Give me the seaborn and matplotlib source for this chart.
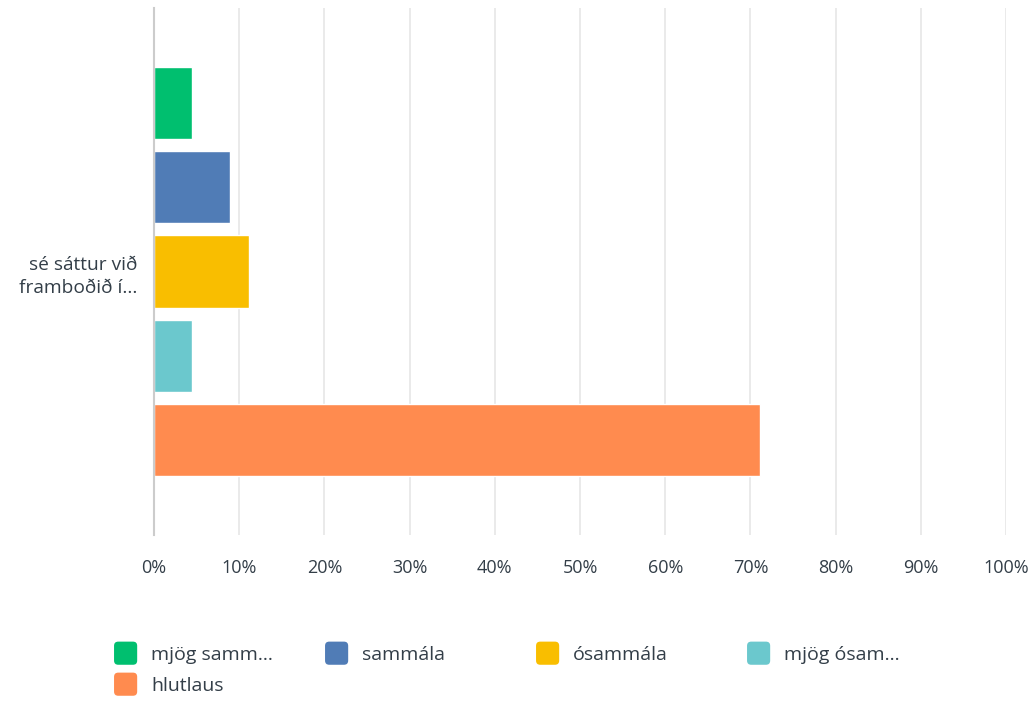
import pandas as pd
import numpy as np
import matplotlib.pyplot as plt
import seaborn as sns
from matplotlib.patches import FancyBboxPatch
from matplotlib.legend_handler import HandlerPatch

question = ["sé sáttur við\nframboðið í..."]
answers = ["mjög samm...", "sammála", "ósammála", "mjög ósam...", "hlutlaus"]
shares = [4.44, 8.89, 11.11, 4.44, 71.11]
colors = ["#00BF6F", "#507CB6", "#F9BE00", "#6BC8CD", "#FF8B4F"]
ticks = [0, 10, 20, 30, 40, 50, 60, 70, 80, 90, 100]

df = pd.DataFrame({"q": question * len(answers), "answer": answers, "share": shares})

sns.set_style("white")
plt.rcParams['font.family'] = ['Open Sans', 'DejaVu Sans']
text_col = "#333e48"

fig = plt.figure(figsize=(10.28, 7.02), dpi=100)
ax = fig.add_axes([154 / 1028, 1 - 535 / 702, (1006 - 154) / 1028, (535 - 8) / 702])

sns.barplot(data=df, y="q", x="share", hue="answer", hue_order=answers,
            palette=colors, gap=0.14, width=0.8, ax=ax, legend=False,
            saturation=1, orient="h", zorder=3)

ax.set_xlim(0, 100)
ax.set_xticks(ticks)
ax.set_xticklabels([f"{t}%" for t in ticks], color=text_col, fontsize=13)
ax.tick_params(axis="x", length=0, pad=17)
ax.tick_params(axis="y", length=0, pad=12)
for lab in ax.get_yticklabels():
    lab.set_color(text_col)
    lab.set_fontsize(13.8)
    lab.set_linespacing(1.4)
ax.set_xlabel("")
ax.set_ylabel("")
ax.grid(axis="x", color="#e6e6e6", linewidth=1.2, zorder=0)
for s in ["top", "right", "bottom"]:
    ax.spines[s].set_visible(False)
ax.spines["left"].set_color("#cccccc")
ax.spines["left"].set_linewidth(1.5)
ax.spines["left"].set_zorder(4)


class RoundHandler(HandlerPatch):
    def create_artists(self, legend, orig_handle, xdescent, ydescent, width, height, fontsize, trans):
        size = height * 1.7
        p = FancyBboxPatch((xdescent + (width - size) / 2, ydescent + (height - size) / 2), size, size,
                           boxstyle="round,pad=0,rounding_size=3",
                           facecolor=orig_handle.get_facecolor(), edgecolor="none", transform=trans)
        return [p]


# one legend per entry so the columns sit on an even grid like the original
for i, (name, col) in enumerate(zip(answers, colors)):
    row, c = divmod(i, 4)
    x0 = (112 + c * 211) / 1028
    y0 = 1 - (655 + row * 31) / 702
    leg = fig.legend([plt.Rectangle((0, 0), 1, 1, facecolor=col)], [name],
                     loc="center left", bbox_to_anchor=(x0, y0), frameon=False, fontsize=14,
                     handler_map={plt.Rectangle: RoundHandler()}, handlelength=1.4,
                     handletextpad=0.6, borderpad=0, borderaxespad=0)
    for t in leg.get_texts():
        t.set_color(text_col)

fig.savefig("out.png", dpi=100)
